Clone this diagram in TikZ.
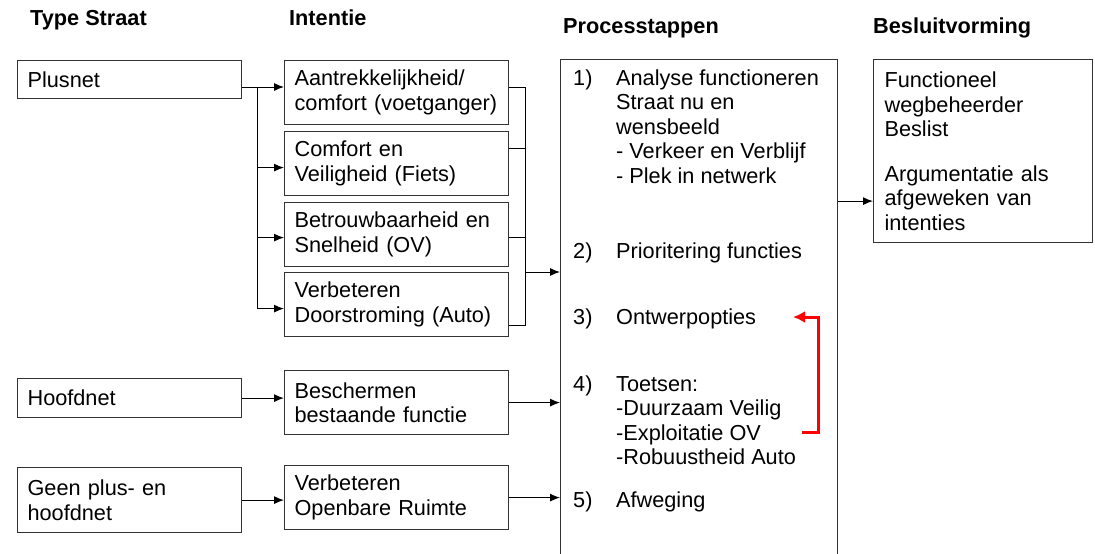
\documentclass[tikz,border=0pt]{standalone}
\usepackage{fontspec}
\setmainfont{Liberation Sans}
\usetikzlibrary{arrows.meta}
\newcommand{\stepnr}[1]{\makebox[43pt][l]{#1}}
\begin{document}
\begin{tikzpicture}
[x=1pt,y=-1pt,%
  box/.style={draw=black!80,line width=1.2pt,anchor=north west,inner sep=0pt},%
  tbox/.style={box,text width=204pt,inner xsep=10pt,align=left},%
  head/.style={font=\bfseries,inner sep=0pt,anchor=base west},%
  steptxt/.style={inner sep=0pt,anchor=base west},%
  arr/.style={-{Latex[length=10pt,width=8pt]},line width=1pt},%
  feedback/.style={-{Latex[length=12pt,width=12pt]},draw=red,line width=3pt}]
\fontsize{21.7}{24.5}\selectfont
\hyphenpenalty=10000
\useasboundingbox (0,0) rectangle (1095,554);
\clip (0,0) rectangle (1095,554);
% kolomkoppen
\node[head] (h1) at (30,25) {Type Straat};
\node[head] (h2) at (289,25) {Intentie};
\node[head] (h3) at (563,33) {Processtappen};
\node[head] (h4) at (873,33) {Besluitvorming};
% type straat
\node[tbox,minimum height=38pt] (plus) at (17,60) {Plusnet};
\node[tbox,minimum height=39pt] (hoofd) at (17,378) {Hoofdnet};
\node[tbox,minimum height=65pt] (geen) at (17,467) {Geen plus- en\\hoofdnet};
% intenties
\node[tbox,minimum height=64pt] (voet) at (284,60) {Aantrekkelijkheid/\\comfort (voetganger)};
\node[tbox,minimum height=64pt] (fiets) at (284,131) {Comfort en\\Veiligheid (Fiets)};
\node[tbox,minimum height=64pt] (ov) at (284,202) {Betrouwbaarheid en\\Snelheid (OV)};
\node[tbox,minimum height=64pt] (auto) at (284,272) {Verbeteren\\Doorstroming (Auto)};
\node[tbox,minimum height=64pt] (besch) at (284,370) {Beschermen\\bestaande functie};
\node[tbox,minimum height=64pt] (openb) at (284,465) {Verbeteren\\Openbare Ruimte};
% processtappen
\node[box,minimum width=277pt,minimum height=541pt] (proc) at (560,59) {};
\node[steptxt] (s1) at (573,85) {\stepnr{1)}\begin{tabular}[t]{@{}l@{}}Analyse functioneren\\Straat nu en\\wensbeeld\\- Verkeer en Verblijf\\- Plek in netwerk\end{tabular}};
\node[steptxt] (s2) at (573,258) {\stepnr{2)}Prioritering functies};
\node[steptxt] (s3) at (573,324) {\stepnr{3)}Ontwerpopties};
\node[steptxt] (s4) at (573,391) {\stepnr{4)}\begin{tabular}[t]{@{}l@{}}Toetsen:\\-Duurzaam Veilig\\-Exploitatie OV\\-Robuustheid Auto\end{tabular}};
\node[steptxt] (s5) at (573,507) {\stepnr{5)}Afweging};
% besluitvorming
\node[box,text width=197pt,inner xsep=11pt,align=left,minimum height=183pt] (besluit) at (873,59)
  {Functioneel\\wegbeheerder\\Beslist\\[20pt]Argumentatie als\\afgeweken van\\intenties};
% verbindingen
\coordinate (fork) at (257,87);
\coordinate (join) at (525,272);
\draw[line width=1pt] (plus.east |- fork) -- (fork);
\draw[arr] (fork) -- (voet.west |- fork);
\draw[arr] (fork) |- ([yshift=-4pt]fiets.west);
\draw[arr] (fork) |- ([yshift=-3pt]ov.west);
\draw[arr] (fork) |- ([yshift=-4pt]auto.west);
\draw[line width=1pt] ([yshift=5pt]voet.east) -| (join);
\draw[line width=1pt] ([yshift=15pt]fiets.east) -| (join);
\draw[line width=1pt] ([yshift=-3pt]ov.east) -| (join);
\draw[line width=1pt] ([yshift=-21pt]auto.east) -| (join);
\draw[arr] (join) -- (proc.west |- join);
\draw[arr] (hoofd) -- (besch.west |- hoofd);
\draw[arr] (besch) -- (proc.west |- besch);
\draw[arr] (geen) -- (openb.west |- geen);
\draw[arr] (openb) -- (proc.west |- openb);
\coordinate (d) at ([yshift=-50pt]besluit.west);
\draw[arr] (proc.east |- d) -- (d);
% terugkoppeling
\coordinate (fb) at (802,432);
\coordinate (back) at (793,317);
\draw[feedback] (fb) -- ++(16,0) |- (back);
\end{tikzpicture}
\end{document}
